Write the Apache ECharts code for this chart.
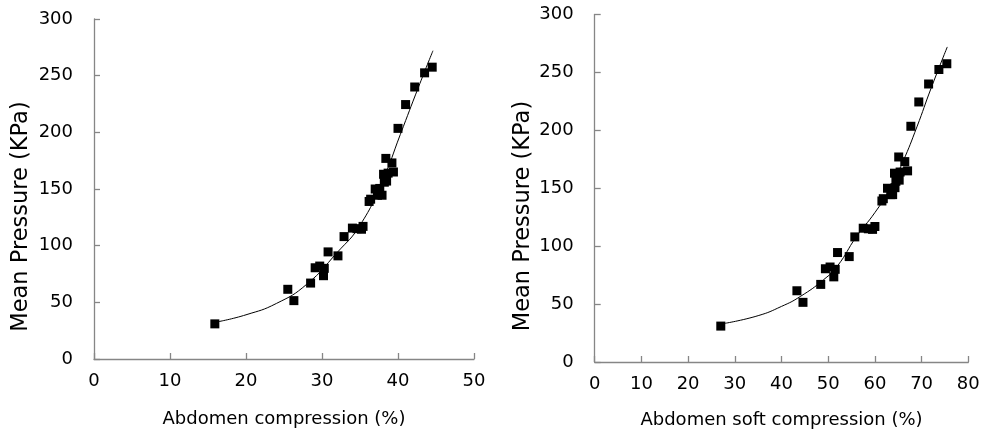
<!DOCTYPE html>
<html>
<head>
<meta charset="utf-8">
<script src="https://cdn.jsdelivr.net/npm/echarts@6/dist/echarts.min.js"></script>
<style>html,body{margin:0;padding:0;background:#fff}#c{width:984px;height:440px}</style>
</head>
<body>
<div id="c"></div>
<script>
// Shared mean pressure values (KPa)
var pressure = [31, 61.5, 51.5, 67, 80.5, 82, 80, 73.5, 94.5, 91, 108, 115.5, 115, 114.5, 117, 139, 141, 150, 144.5, 144.5, 150.5, 156, 157, 163, 164, 165, 177, 173, 203.5, 224.5, 240, 252.5, 257.5];
// Abdomen compression (%) for each point
var compression = [15.9, 25.5, 26.3, 28.5, 29.1, 29.7, 30.3, 30.2, 30.8, 32.1, 32.9, 34.0, 34.6, 35.2, 35.4, 36.2, 36.4, 37.0, 37.3, 37.9, 37.6, 38.2, 38.5, 38.1, 38.7, 39.4, 38.4, 39.2, 40.0, 41.0, 42.2, 43.5, 44.5];
// Abdomen soft compression (%) for each point
var softCompression = [27.0, 43.3, 44.6, 48.4, 49.4, 50.4, 51.5, 51.2, 52.0, 54.5, 55.7, 57.5, 58.6, 59.5, 60.0, 61.5, 61.8, 62.7, 63.4, 63.8, 64.3, 64.5, 65.2, 64.2, 65.4, 67.0, 65.1, 66.4, 67.7, 69.4, 71.5, 73.7, 75.4];
// Trendline points
var trendL_x = [16.4, 20, 24, 28, 32, 35, 38, 40.3, 42.7, 44.6];
var trendL_y = [33, 39, 49, 66, 94, 118, 158, 198, 240, 272];
var trendR_x = [27.9, 35, 40, 44, 49, 52, 56, 60, 63, 66, 69, 72, 75.5];
var trendR_y = [33.4, 40, 48, 56.5, 71, 83, 108, 129, 148, 173, 203, 236, 272];
var yTicks = {min: 0, max: 300, interval: 50};
var xTicksL = {min: 0, max: 50, interval: 10};
var xTicksR = {min: 0, max: 80, interval: 10};
var xTitleL = 'Abdomen compression (%)';
var xTitleR = 'Abdomen soft compression (%)';
var yTitle = 'Mean Pressure (KPa)';

function zip(a, b) { return a.map(function (v, i) { return [v, b[i]]; }); }

var FONT = 'DejaVu Sans';
var axisColor = '#868686';
function xAx(idx, t, name, gap) {
  return {
    type: 'value', gridIndex: idx, min: t.min, max: t.max, interval: t.interval,
    name: name, nameLocation: 'middle', nameGap: gap,
    nameTextStyle: {fontFamily: FONT, fontSize: 18, color: '#000'},
    axisLine: {show: true, lineStyle: {color: axisColor, width: 1.3}},
    axisTick: {show: true, inside: true, length: 6, lineStyle: {color: axisColor, width: 1.3}},
    axisLabel: {fontFamily: FONT, fontSize: 18, color: '#000', margin: 13},
    splitLine: {show: false}
  };
}
function yAx(idx) {
  return {
    type: 'value', gridIndex: idx, min: yTicks.min, max: yTicks.max, interval: yTicks.interval,
    axisLine: {show: true, lineStyle: {color: axisColor, width: 1.3}},
    axisTick: {show: true, inside: true, length: 6, lineStyle: {color: axisColor, width: 1.3}},
    axisLabel: {fontFamily: FONT, fontSize: 18, color: '#000', margin: 21},
    splitLine: {show: false}
  };
}

var chart = echarts.init(document.getElementById('c'));
chart.setOption({
  animation: false,
  backgroundColor: '#fff',
  grid: [
    {left: 94, top: 19, width: 380, height: 340},
    {left: 594.7, top: 14.5, width: 373.6, height: 347.5}
  ],
  xAxis: [xAx(0, xTicksL, xTitleL, 51), xAx(1, xTicksR, xTitleR, 49)],
  yAxis: [yAx(0), yAx(1)],
  graphic: [
    {type: 'text', x: 21.5, y: 216.5, rotation: Math.PI / 2,
     style: {text: yTitle, fontFamily: FONT, fontSize: 22.5, fill: '#000', align: 'center', verticalAlign: 'middle'}},
    {type: 'text', x: 523.5, y: 216, rotation: Math.PI / 2,
     style: {text: yTitle, fontFamily: FONT, fontSize: 22.5, fill: '#000', align: 'center', verticalAlign: 'middle'}}
  ],
  series: [
    {type: 'line', xAxisIndex: 0, yAxisIndex: 0, data: zip(trendL_x, trendL_y), smooth: true, showSymbol: false,
     lineStyle: {color: '#000', width: 1}, z: 2},
    {type: 'scatter', xAxisIndex: 0, yAxisIndex: 0, data: zip(compression, pressure), symbol: 'rect', symbolSize: 9,
     itemStyle: {color: '#000', opacity: 1}, z: 3},
    {type: 'line', xAxisIndex: 1, yAxisIndex: 1, data: zip(trendR_x, trendR_y), smooth: true, showSymbol: false,
     lineStyle: {color: '#000', width: 1}, z: 2},
    {type: 'scatter', xAxisIndex: 1, yAxisIndex: 1, data: zip(softCompression, pressure), symbol: 'rect', symbolSize: 9,
     itemStyle: {color: '#000', opacity: 1}, z: 3}
  ]
});
</script>
</body>
</html>
